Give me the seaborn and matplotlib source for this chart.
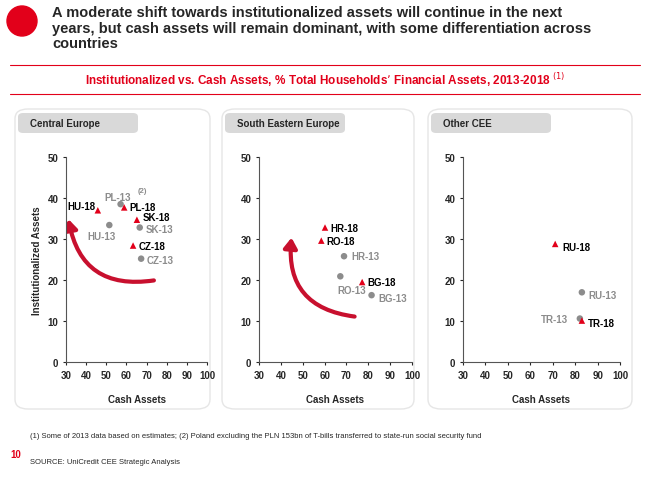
import matplotlib
matplotlib.use("Agg")
import matplotlib.pyplot as plt
import seaborn as sns
import pandas as pd
from matplotlib.patches import FancyBboxPatch, FancyArrowPatch, Ellipse

sns.set_style("white")
plt.rcParams['font.family'] = ['Liberation Sans', 'DejaVu Sans']

panels = ["Central Europe", "South Eastern Europe", "Other CEE"]
labels_ce = ["HU-18", "PL-13", "PL-18", "SK-18", "SK-13", "HU-13", "CZ-18", "CZ-13"]
cash_ce = [45.8, 57.1, 58.9, 65.2, 66.6, 51.5, 63.3, 67.3]
inst_ce = [37.0, 38.5, 37.7, 34.7, 32.8, 33.4, 28.4, 25.2]
labels_see = ["HR-18", "RO-18", "HR-13", "RO-13", "BG-18", "BG-13"]
cash_see = [60.2, 58.5, 68.9, 67.2, 77.2, 81.5]
inst_see = [32.8, 29.6, 25.8, 20.9, 19.5, 16.3]
labels_oth = ["RU-18", "RU-13", "TR-13", "TR-18"]
cash_oth = [71.1, 83.0, 82.1, 83.0]
inst_oth = [28.8, 17.0, 10.6, 10.1]

RED = "#e2001a"
GRAY = "#8c8c8c"

fig = plt.figure(figsize=(6.5, 4.81), dpi=100)
W, H = 650, 481
def fx(px): return px / W
def fy(py): return 1 - py / H

# Logo
fig.patches.append(Ellipse((fx(22), fy(22)), 30 / W, 30 / H, transform=fig.transFigure, color=RED, zorder=-1))
fig.text(fx(52), fy(6), "A moderate shift towards institutionalized assets will continue in the next\nyears, but cash assets will remain dominant, with some differentiation across\ncountries",
         fontsize=10.5, fontweight="bold", va="top", ha="left", linespacing=1.15)
fig.add_artist(plt.Line2D([fx(10), fx(640)], [fy(66), fy(66)], color=RED, lw=0.8))
fig.add_artist(plt.Line2D([fx(10), fx(640)], [fy(95), fy(95)], color=RED, lw=0.8))
fig.text(0.5, fy(80), "Institutionalized vs. Cash Assets, % Total Households’ Financial Assets, 2013-2018 $^{(1)}$",
         color=RED, fontsize=8.5, fontweight="bold", ha="center", va="center")

boxes = [(15, 210), (222, 414), (428, 632)]
for (x0, x1), name in zip(boxes, panels):
    fig.patches.append(FancyBboxPatch((fx(x0), fy(410)), fx(x1 - x0), fy(110) - fy(410),
                                      boxstyle="round,pad=0,rounding_size=0.02", transform=fig.transFigure,
                                      facecolor="white", edgecolor="#e6e6e6", lw=1, zorder=-3))
    fig.patches.append(FancyBboxPatch((fx(x0 + 3), fy(134)), fx(120), fy(114) - fy(134),
                                      boxstyle="round,pad=0,rounding_size=0.008", transform=fig.transFigure,
                                      facecolor="#d9d9d9", edgecolor="none", zorder=-2))
    fig.text(fx(x0 + 15), fy(124), name, fontsize=7, fontweight="bold", va="center")

axpos = [(66, 207), (259, 412), (463, 620)]
data = [(labels_ce, cash_ce, inst_ce), (labels_see, cash_see, inst_see), (labels_oth, cash_oth, inst_oth)]
offsets = {"HU-18": (-22, 3), "PL-13": (-12, 5), "PL-18": (4, 0), "SK-18": (4, 2), "SK-13": (4, -1),
           "HU-13": (-16, -8), "CZ-18": (4, 0), "CZ-13": (4, -1),
           "HR-18": (4, 0), "RO-18": (4, 0), "HR-13": (5, 0), "RO-13": (-2, -10), "BG-18": (4, 0),
           "BG-13": (5, -2), "RU-18": (5, -2), "RU-13": (5, -2), "TR-13": (-28, 0), "TR-18": (4, -2)}
axes = []
for (l, r), (labs, cx, iy) in zip(axpos, data):
    ax = fig.add_axes([fx(l), fy(363), fx(r - l), fy(158) - fy(363)])
    ax.set_zorder(2)
    ax.set_facecolor("none")
    df = pd.DataFrame({"label": labs, "cash": cx, "inst": iy})
    df["year"] = df["label"].str[-2:]
    sns.scatterplot(data=df, x="cash", y="inst", hue="year", style="year",
                    palette={"13": GRAY, "18": RED}, markers={"13": "o", "18": "^"},
                    s=22, edgecolor="none", legend=False, ax=ax, zorder=3)
    for _, row in df.iterrows():
        dx, dy = offsets[row.label]
        ax.annotate(row.label, (row.cash, row.inst), xytext=(dx, dy), textcoords="offset points",
                    fontsize=7, fontweight="bold", color="black" if row.year == "18" else GRAY, va="center")
    ax.set_xlim(30, 100)
    ax.set_ylim(0, 50)
    ax.set_xticks(range(30, 101, 10))
    ax.set_yticks(range(0, 51, 10))
    ax.tick_params(labelsize=7, length=2, direction="out", left=True, bottom=True)
    for t in ax.get_xticklabels() + ax.get_yticklabels():
        t.set_fontweight("bold")
    for s in ["top", "right"]:
        ax.spines[s].set_visible(False)
    for s in ["left", "bottom"]:
        ax.spines[s].set_color("#555555")
        ax.spines[s].set_linewidth(0.8)
    ax.set_xlabel("Cash Assets", fontsize=7, fontweight="bold", labelpad=10)
    ax.set_ylabel("")
    axes.append(ax)
axes[0].set_ylabel("Institutionalized Assets", fontsize=7, fontweight="bold")
axes[0].annotate("(2)", (57.1, 38.5), xytext=(12, 9), textcoords="offset points", fontsize=5.5, color=GRAY, fontweight="bold")

for ax, start, end in [(axes[0], (75, 20), (31, 35.5)), (axes[1], (75, 11), (45, 31))]:
    ax.add_patch(FancyArrowPatch(start, end, connectionstyle="arc3,rad=-0.5", arrowstyle="-|>,head_width=4,head_length=6",
                                 color="#c8102e", lw=3, mutation_scale=1, zorder=2))

fig.text(fx(30), fy(437), "(1) Some of 2013 data based on estimates; (2) Poland excluding the PLN 153bn of T-bills transferred to state-run social security fund",
         fontsize=5.5, va="center")
fig.text(fx(10), fy(455), "10", fontsize=7, color=RED, fontweight="bold", va="center")
fig.text(fx(30), fy(463), "SOURCE: UniCredit CEE Strategic Analysis", fontsize=5.5, va="center")

fig.savefig("out.png", dpi=100)
